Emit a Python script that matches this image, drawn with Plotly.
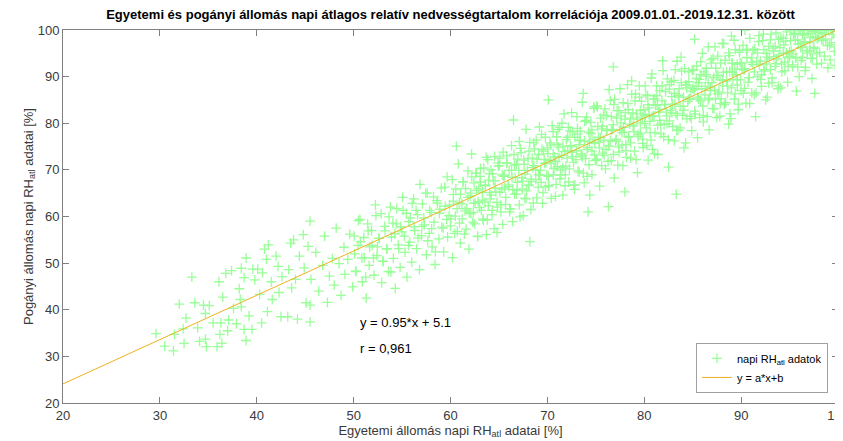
import plotly.graph_objects as go

# Egyetemi (x) vs Pogányi (y) daily mean RH [%]
egyetemi_rh_a = [
    29.6, 30.5, 31.4, 31.5, 32.0, 32.5, 32.7, 32.4, 33.3, 33.6, 34.1, 33.9, 34.5, 34.7, 34.8, 34.7,
    35.1, 35.5, 35.9, 36.2, 36.1, 36.3, 36.4, 36.5, 36.8, 37.0, 37.1, 37.4, 37.6, 37.9, 38.2, 38.3,
    38.4, 38.4, 38.7, 38.7, 38.9, 38.9, 39.2, 39.5, 39.6, 39.8, 40.1, 40.3, 40.5, 40.6, 40.8, 41.0,
    41.1, 41.2, 41.5, 41.6, 42.0, 42.2, 42.3, 42.5, 42.6, 43.2, 43.3, 43.5, 43.6, 43.8, 44.0, 44.2,
    44.4, 44.8, 44.9, 45.1, 45.3, 45.5, 45.5, 45.6, 45.5,
    46.1, 46.4, 46.8, 47.0, 47.3, 47.5, 47.8, 48.0, 48.2, 48.5, 48.7, 49.0, 49.1, 49.4, 49.6, 49.9,
    50.1, 50.2, 50.5, 50.7, 50.9, 51.1, 51.3, 51.5, 51.6, 51.9, 52.1, 52.3, 52.4, 52.6, 52.9, 53.0,
    53.2, 53.4, 53.6, 53.8, 53.9, 54.1, 54.3, 54.4, 54.6, 54.8, 55.0, 55.1, 55.3, 55.5, 55.7, 55.8,
    56.0, 56.2,
    56.3, 56.5, 56.6, 56.8, 57.0, 57.1, 57.3, 57.5, 57.6, 57.8, 58.0, 58.1, 58.3, 58.4, 58.6, 58.8,
    58.9, 59.1, 59.3, 59.4, 59.6, 59.7, 59.9, 60.0, 60.2, 60.3, 60.5, 60.6, 60.7, 60.9, 61.0, 61.2,
    61.3, 61.5, 61.6, 61.8, 61.9, 62.1, 62.2, 62.4, 62.5, 62.7, 62.8, 63.0, 63.1, 63.3, 63.4, 63.6,
    63.7, 63.9, 64.0, 64.2, 64.3, 64.5, 64.6, 64.8, 64.9, 65.1, 65.2, 65.4, 65.5, 65.7, 65.8, 66.0,
    66.1, 66.3, 66.4, 66.5, 66.6, 66.8, 66.9, 67.1, 67.2, 67.4, 67.5, 67.7, 67.8, 68.0, 68.1, 68.2,
    68.3, 68.5, 68.6, 68.8, 68.9, 69.1, 69.2, 69.4, 69.5, 69.7, 69.8, 70.0, 70.1, 70.1, 70.3, 70.4,
    70.6, 70.7, 70.9, 71.0, 71.2, 71.3, 71.5, 71.6, 71.8, 71.9, 72.1, 72.2, 72.4, 72.5, 72.7, 72.8,
    73.0, 73.1, 73.3, 73.4, 73.6, 73.7, 73.8, 74.0, 74.1, 74.2, 74.3, 74.5, 74.6, 74.8, 74.9, 75.1,
    75.2, 75.4, 75.5, 75.7, 75.8, 76.0, 76.1, 76.3, 76.3, 76.5, 76.6, 76.8, 76.8, 76.9, 77.1, 77.2,
    77.4, 77.5, 77.7, 77.8, 78.0, 78.0, 78.1, 78.3, 78.4, 78.6, 78.7, 78.9, 79.0, 79.2, 79.3, 79.5,
    79.6, 79.8, 79.9, 80.1, 80.2, 80.4, 80.5, 80.7, 80.8, 81.0, 81.1, 81.3, 81.4, 81.6, 81.7, 81.9,
    82.0, 82.2, 82.3, 82.5, 82.6, 82.8, 82.9, 83.1, 83.3, 83.2, 83.4, 83.5, 83.7, 83.8, 84.0, 84.1,
    84.3, 84.4, 84.6, 84.7, 84.9,
    85.0, 85.2, 85.2, 85.4, 85.5, 85.7, 85.8, 86.0, 86.1, 86.3, 86.4, 86.6, 86.7, 86.9, 87.0, 87.2,
    87.3, 87.5, 87.6, 87.8, 87.9, 88.1, 88.2, 88.4, 88.5, 88.7, 88.8, 89.0, 89.0, 89.1, 89.3, 89.4,
    89.6, 89.7, 89.9, 90.0, 90.2, 90.4, 90.3, 90.5, 90.6, 90.8, 90.9, 91.1, 91.2, 91.4, 91.5, 91.7,
    91.8, 92.0, 92.1, 92.3, 92.4, 92.6, 92.7, 92.9, 93.0, 93.2, 93.3, 93.5, 93.6, 93.8, 93.9, 94.1,
    94.2, 94.4, 94.5, 94.7, 94.8, 95.0, 95.1, 95.3, 95.4, 95.6, 95.7, 95.9, 96.0, 96.2, 96.3, 96.5,
    96.6, 96.8, 96.9, 97.1, 97.2, 97.4, 97.6, 97.5, 97.7, 97.8, 98.0, 98.1, 98.3, 98.4, 98.6, 98.7,
    98.9, 99.0, 99.2, 99.3, 99.5, 99.7, 99.7, 99.8,
]
pogany_rh_a = [
    34.9, 32.2, 31.2, 34.7, 41.2, 32.8, 38.2, 35.9, 47.0, 41.5, 33.2, 36.1, 41.0, 39.2, 32.1, 33.7,
    40.9, 37.2, 32.1, 34.7, 46.0, 37.2, 32.8, 42.7, 47.8, 35.5, 37.8, 48.4, 40.3, 37.0, 44.5, 42.2,
    48.9, 40.6, 46.9, 35.8, 33.4, 51.1, 38.7, 35.8, 48.7, 46.4, 48.7, 43.3, 37.2, 47.9, 53.0, 50.8,
    39.6, 53.9, 46.0, 42.2, 51.5, 49.3, 43.7, 38.5, 47.1, 38.5, 48.6, 54.3, 44.7, 55.0, 46.5, 38.0,
    51.5, 56.1, 49.0, 41.5, 53.6, 59.0, 37.4, 46.5, 41.0,
    52.3, 44.0, 49.5, 55.8, 41.6, 47.2, 51.0, 45.3, 57.5, 49.9, 43.1, 53.4, 47.6, 50.8, 56.2, 44.9,
    52.0, 48.3, 59.1, 54.6, 46.0, 51.2, 42.5, 56.9, 49.5, 53.8, 47.4, 60.2, 51.6, 55.3, 45.8, 50.4,
    57.9, 53.1, 48.2, 62.0, 55.6, 51.0, 44.6, 58.4, 53.9, 49.1, 56.7, 61.3, 52.3, 47.0, 58.9, 54.5,
    50.2, 63.8,
    57.0, 53.1, 60.4, 48.6, 55.9, 62.7, 58.2, 51.8, 65.0, 56.4, 60.9, 53.5, 58.8, 49.7, 63.4, 55.2,
    61.6, 57.7, 52.4, 66.3, 59.4, 55.6, 62.5, 58.0, 51.2, 64.7, 60.1, 75.1, 56.8, 62.9, 54.3, 59.5,
    67.4, 61.2, 57.3, 64.1, 53.0, 60.6, 68.5, 62.8, 58.4, 65.6, 55.7, 61.9, 70.3, 63.5, 59.2, 66.8,
    56.1, 62.3, 69.2, 64.6, 60.4, 57.4, 67.7, 63.0, 71.5, 65.2, 61.0, 58.3, 68.6, 64.1, 73.0, 66.4,
    61.7, 69.9, 58.9, 80.7, 64.8, 71.2, 67.3, 62.5, 74.6, 65.9, 60.2, 69.1, 63.8, 72.4, 66.7, 54.6,
    61.5, 70.5, 75.8, 67.9, 64.0, 73.3, 69.0, 77.6, 62.8, 71.4, 66.3, 74.7, 85.0, 68.6, 72.0, 63.9,
    78.2, 70.3, 66.9, 75.5, 72.7, 68.1, 80.0, 64.6, 73.9, 70.8, 77.0, 67.4, 75.0, 82.3, 71.6, 65.8,
    74.1, 78.9, 69.5, 76.3, 72.8, 86.4, 67.2, 80.6, 74.4, 61.0, 71.1, 77.8, 69.0, 83.5, 75.7, 72.3,
    79.3, 66.5, 76.9, 73.6, 81.8, 70.2, 78.4, 62.1, 75.1, 84.9, 72.0, 92.1, 79.7, 68.3, 76.6, 82.7,
    73.8, 87.4, 78.0, 70.9, 65.3, 80.9, 75.4, 84.2, 77.2, 72.5, 89.1, 79.6, 74.0, 82.0, 69.4, 85.6,
    77.9, 81.3, 74.8, 88.0, 79.0, 72.1, 83.3, 76.4, 90.6, 81.5, 78.0, 85.9, 73.3, 83.0, 79.8, 93.4,
    77.1, 86.8, 82.4, 70.6, 80.5, 88.9, 84.1, 76.2, 64.8, 91.5, 81.7, 86.0, 79.0, 94.2, 83.6, 74.7,
    88.2, 81.0, 91.0, 85.3, 78.4,
    87.5, 98.0, 82.6, 92.3, 76.9, 89.4, 84.8, 95.0, 80.3, 87.9, 91.8, 85.0, 78.6, 93.6, 88.7, 83.1,
    96.4, 90.2, 86.3, 81.5, 92.9, 88.0, 97.1, 84.4, 91.0, 79.8, 94.5, 98.7, 87.6, 90.9, 85.2, 95.8,
    89.3, 82.9, 93.0, 87.0, 96.7, 100.0, 91.4, 84.3, 94.1, 89.8, 98.2, 86.5, 92.6, 95.9, 81.4, 90.0,
    97.5, 93.3, 87.9, 99.1, 91.2, 95.0, 85.6, 93.8, 97.9, 89.7, 96.1, 92.2, 99.4, 87.4, 94.6, 98.3,
    91.0, 96.8, 93.1, 99.6, 88.8, 95.4, 97.7, 92.5, 99.0, 94.0, 86.9, 97.0, 99.8, 93.5, 96.3, 98.9,
    91.3, 95.6, 99.3, 97.4, 93.9, 99.7, 86.4, 96.0, 98.6, 92.7, 99.5, 95.2, 97.9, 99.2, 94.4, 98.1,
    96.6, 99.9, 93.6, 97.3, 99.0, 96.4, 92.4, 98.5,
]

# further points filling the dense part of the cloud (x 50-100)
egyetemi_rh_b = [
    50.05, 50.25, 50.45, 50.65, 50.85, 51.05, 51.25, 51.45, 51.65, 51.85, 52.05, 52.25, 52.45, 52.65,
    52.85, 53.05, 53.25, 53.45, 53.65, 53.85, 54.05, 54.25, 54.45, 54.65, 54.85, 55.05, 55.25, 55.45,
    55.65, 55.85, 56.05, 56.25, 56.45, 56.65, 56.85, 57.05, 57.25, 57.45, 57.65, 57.85, 58.05, 58.25,
    58.45, 58.65, 58.85, 59.05, 59.25, 59.45, 59.65, 59.85,
    60.05, 60.18, 60.30, 60.43, 60.55, 60.68, 60.80, 60.93, 61.05, 61.18, 61.30, 61.43, 61.55, 61.68,
    61.80, 61.93, 62.05, 62.18, 62.30, 62.43, 62.55, 62.68, 62.80, 62.93, 63.05, 63.18, 63.30, 63.43,
    63.55, 63.68, 63.80, 63.93, 64.05, 64.18, 64.30, 64.43, 64.55, 64.68, 64.80, 64.93, 65.05, 65.18,
    65.30, 65.43, 65.55, 65.68, 65.80, 65.93, 66.05, 66.18, 66.30, 66.43, 66.55, 66.68, 66.80, 66.93,
    67.05, 67.18, 67.30, 67.43, 67.55, 67.68, 67.80, 67.93, 68.05, 68.18, 68.30, 68.43, 68.55, 68.68,
    68.80, 68.93, 69.05, 69.18, 69.30, 69.43, 69.55, 69.68, 69.80, 69.93,
    70.05, 70.16, 70.27, 70.38, 70.49, 70.61, 70.72, 70.83, 70.94, 71.05, 71.16, 71.27, 71.38, 71.49,
    71.60, 71.72, 71.83, 71.94, 72.05, 72.16, 72.27, 72.38, 72.49, 72.60, 72.71, 72.83, 72.94, 73.05,
    73.16, 73.27, 73.38, 73.49, 73.60, 73.71, 73.82, 73.94, 74.05, 74.16, 74.27, 74.38, 74.49, 74.60,
    74.71, 74.82, 74.94, 75.05, 75.16, 75.27, 75.38, 75.49, 75.60, 75.71, 75.82, 75.94, 76.05, 76.16,
    76.27, 76.38, 76.49, 76.60, 76.71, 76.82, 76.94, 77.05, 77.16, 77.27, 77.38, 77.49, 77.60, 77.71,
    77.82, 77.94, 78.05, 78.16, 78.27, 78.38, 78.49, 78.60, 78.71, 78.82, 78.94, 79.05, 79.16, 79.27,
    79.38, 79.49, 79.60, 79.71, 79.82, 79.94,
    80.05, 80.16, 80.27, 80.38, 80.49, 80.61, 80.72, 80.83, 80.94, 81.05, 81.16, 81.27, 81.38, 81.49,
    81.60, 81.72, 81.83, 81.94, 82.05, 82.16, 82.27, 82.38, 82.49, 82.60, 82.71, 82.83, 82.94, 83.05,
    83.16, 83.27, 83.38, 83.49, 83.60, 83.71, 83.82, 83.94, 84.05, 84.16, 84.27, 84.38, 84.49, 84.60,
    84.71, 84.82, 84.94, 85.05, 85.16, 85.27, 85.38, 85.49, 85.60, 85.71, 85.82, 85.94, 86.05, 86.16,
    86.27, 86.38, 86.49, 86.60, 86.71, 86.82, 86.94, 87.05, 87.16, 87.27, 87.38, 87.49, 87.60, 87.71,
    87.82, 87.94, 88.05, 88.16, 88.27, 88.38, 88.49, 88.60, 88.71, 88.82, 88.94, 89.05, 89.16, 89.27,
    89.38, 89.49, 89.60, 89.71, 89.82, 89.94,
    90.05, 90.22, 90.38, 90.55, 90.71, 90.88, 91.04, 91.21, 91.37, 91.54, 91.70, 91.87, 92.03, 92.20,
    92.36, 92.53, 92.69, 92.86, 93.02, 93.19, 93.35, 93.52, 93.68, 93.85, 94.01, 94.18, 94.34, 94.51,
    94.67, 94.84, 95.00, 95.17, 95.33, 95.50, 95.66, 95.83, 95.99, 96.16, 96.32, 96.49, 96.65, 96.82,
    96.98, 97.15, 97.31, 97.48, 97.64, 97.81, 97.97, 98.14, 98.30, 98.47, 98.63, 98.80, 98.96, 99.13,
    99.29, 99.46, 99.62, 99.79,
]
pogany_rh_b = [
    55.8, 48.2, 53.8, 59.4, 51.1, 55.5, 47.0, 58.4, 53.5, 57.0, 51.1, 62.5, 53.5, 55.3,
    60.6, 50.4, 56.9, 53.0, 59.9, 48.1, 58.6, 56.3, 61.7, 53.1, 57.8, 64.1, 55.8, 60.7,
    53.8, 59.7, 62.8, 57.8, 61.3, 55.4, 66.9, 57.9, 59.7, 65.0, 54.8, 61.3, 57.4, 64.2,
    52.4, 62.9, 60.7, 66.1, 57.5, 62.2, 68.5, 60.2,
    59.5, 67.9, 63.3, 56.4, 65.9, 61.7, 71.3, 58.6, 64.8, 62.7, 67.5, 56.2, 66.0, 61.7,
    69.8, 60.8, 64.4, 73.4, 58.8, 67.2, 62.9, 69.3, 55.8, 66.0, 68.6, 61.3, 65.2, 70.4,
    63.1, 72.7, 59.3, 67.8, 65.1, 70.0, 61.3, 67.7, 72.9, 65.3, 56.6, 70.8, 70.9, 62.5,
    65.9, 73.8, 68.8, 62.6, 71.5, 66.8, 69.9, 61.6, 75.2, 65.8, 73.3, 68.4, 64.8, 72.3,
    69.9, 59.9, 73.7, 67.6, 72.1, 63.9, 78.7, 69.9, 66.7, 75.9, 68.0, 72.5, 62.9, 74.5,
    70.0, 72.3, 66.3, 79.2, 69.9, 74.4, 65.1, 72.2, 77.0, 68.8,
    73.5, 66.6, 75.8, 71.4, 79.5, 68.9, 72.8, 64.3, 77.1, 70.7, 74.9, 79.1, 68.9, 73.1,
    70.5, 82.0, 66.6, 76.5, 72.5, 79.1, 70.2, 75.2, 73.8, 78.2, 66.7, 77.0, 72.2, 81.4,
    69.8, 75.4, 78.3, 73.4, 84.5, 69.3, 76.2, 72.4, 81.3, 74.8, 78.1, 64.6, 80.2, 74.0,
    76.5, 83.2, 72.0, 72.1, 83.5, 77.0, 74.7, 81.1, 70.9, 79.4, 76.3, 83.1, 74.4, 78.5,
    71.8, 87.2, 76.3, 81.4, 78.7, 73.3, 85.1, 76.1, 81.1, 71.0, 82.7, 78.5, 80.1, 75.3,
    84.4, 78.1, 82.3, 72.7, 88.3, 77.0, 79.8, 75.8, 86.2, 82.2, 78.2, 84.8, 72.2, 80.9,
    77.2, 88.0, 80.1, 84.7, 75.7, 82.9,
    79.9, 86.1, 75.2, 84.0, 81.9, 78.0, 89.7, 81.5, 85.2, 73.5, 83.8, 88.0, 79.6, 82.4,
    87.0, 77.7, 84.8, 91.3, 79.7, 84.0, 81.6, 89.5, 76.5, 87.3, 82.8, 85.7, 79.3, 89.2,
    84.1, 82.1, 93.3, 78.5, 87.4, 83.6, 88.7, 81.7, 85.6, 91.7, 75.8, 87.6, 84.7, 88.9,
    81.5, 86.9, 91.3, 91.4, 87.2, 82.0, 89.6, 85.6, 88.7, 81.2, 93.2, 87.4, 83.7, 91.0,
    86.1, 90.1, 81.4, 96.4, 85.4, 87.6, 92.9, 83.2, 89.8, 87.1, 91.8, 81.2, 94.4, 86.7,
    89.3, 85.3, 97.1, 90.9, 84.0, 93.5, 89.1, 86.5, 95.1, 91.1, 81.0, 92.9, 89.4, 97.8,
    86.3, 90.4, 92.7, 84.1, 95.2, 89.3,
    92.8, 86.4, 91.7, 95.7, 88.8, 84.2, 93.1, 95.6, 91.0, 86.5, 95.1, 92.6, 89.4, 97.7,
    91.5, 85.0, 94.2, 96.5, 91.5, 88.7, 94.3, 96.5, 93.8, 88.0, 96.2, 92.7, 98.2, 91.3,
    95.1, 94.1, 94.3, 95.5, 92.1, 99.3, 94.1, 97.9, 90.0, 96.2, 99.1, 97.3, 92.0, 95.1,
    100.0, 98.4, 89.6, 96.3, 100.0, 94.9, 98.4, 100.0, 92.9, 97.8, 100.0, 100.0, 91.9, 96.8,
    100.0, 100.0, 95.4, 100.0,
]

# more points in the densest part of the band (x 62-98)
egyetemi_rh_c = [
    62.10, 62.35, 62.60, 62.85, 63.10, 63.35, 63.60, 63.85, 64.10, 64.35, 64.60, 64.85, 65.10, 65.35,
    65.60, 65.85, 66.10, 66.35, 66.60, 66.85, 67.10, 67.35, 67.60, 67.85, 68.10, 68.35, 68.60, 68.85,
    69.10, 69.35, 69.60, 69.85, 70.10, 70.35, 70.60, 70.85, 71.10, 71.35, 71.60, 71.85, 72.10, 72.35,
    72.60, 72.85, 73.10, 73.35, 73.60, 73.85, 74.10, 74.35, 74.60, 74.85, 75.10, 75.35, 75.60, 75.85,
    76.10, 76.35, 76.60, 76.85, 77.10, 77.35, 77.60, 77.85, 78.10, 78.35, 78.60, 78.85, 79.10, 79.35,
    79.60, 79.85, 80.10, 80.35, 80.60, 80.85, 81.10, 81.35, 81.60, 81.85, 82.10, 82.35, 82.60, 82.85,
    83.10, 83.35, 83.60, 83.85, 84.10, 84.35, 84.60, 84.85, 85.10, 85.35, 85.60, 85.85, 86.10, 86.35,
    86.60, 86.85, 87.10, 87.35, 87.60, 87.85, 88.10, 88.35, 88.60, 88.85, 89.10, 89.35, 89.60, 89.85,
    90.10, 90.35, 90.60, 90.85, 91.10, 91.35, 91.60, 91.85, 92.10, 92.35, 92.60, 92.85, 93.10, 93.35,
    93.60, 93.85, 94.10, 94.35, 94.60, 94.85, 95.10, 95.35, 95.60, 95.85, 96.10, 96.35, 96.60, 96.85,
    97.10, 97.35, 97.60, 97.85,
]
pogany_rh_c = [
    65.0, 60.9, 69.3, 63.2, 67.4, 59.5, 66.6, 72.2, 63.8, 69.2, 66.1, 62.0, 72.5, 68.9,
    66.2, 71.4, 61.0, 68.4, 71.0, 65.6, 76.1, 68.3, 71.2, 65.5, 74.0, 67.5, 70.9, 76.4,
    68.9, 67.3, 74.0, 71.5, 66.5, 75.3, 73.5, 71.8, 78.7, 70.0, 75.1, 69.0, 74.1, 78.3,
    72.8, 66.8, 77.7, 76.4, 73.0, 80.4, 68.6, 76.0, 78.6, 73.2, 83.7, 75.9, 78.8, 73.1,
    81.6, 75.1, 78.5, 84.0, 76.5, 74.9, 81.6, 79.1, 74.1, 82.9, 81.1, 79.4, 86.3, 77.6,
    82.7, 76.6, 81.7, 85.9, 80.4, 74.4, 85.3, 84.0, 80.6, 88.0, 84.0, 79.9, 88.3, 82.2,
    86.4, 78.5, 85.6, 91.2, 82.8, 88.2, 85.1, 81.0, 91.5, 87.9, 85.2, 90.4, 81.7, 90.5,
    88.7, 87.0, 93.9, 85.2, 90.3, 84.2, 89.3, 93.5, 88.0, 82.0, 92.9, 91.6, 88.2, 95.6,
    91.6, 87.5, 95.9, 89.8, 94.0, 86.1, 93.2, 98.8, 90.4, 95.8, 92.7, 88.6, 99.1, 95.5,
    92.8, 98.0, 87.6, 95.0, 97.6, 92.2, 100.0, 94.9, 97.8, 92.1, 100.0, 94.1, 97.5, 100.0,
    95.5, 93.9, 100.0, 98.1,
]

egyetemi_rh = egyetemi_rh_a + egyetemi_rh_b + egyetemi_rh_c
pogany_rh = pogany_rh_a + pogany_rh_b + pogany_rh_c

# linear fit y = a*x + b
fit_a = 0.95
fit_b = 5.1
fit_x = [20, 100]
fit_y = [fit_a * v + fit_b for v in fit_x]

tick_vals = [20, 30, 40, 50, 60, 70, 80, 90, 100]

FONT = "Liberation Sans, Arial, sans-serif"
AXIS_COLOR = "#808080"
TEXT_COLOR = "#3a3a3a"

fig = go.Figure()
fig.add_trace(go.Scatter(
    x=egyetemi_rh, y=pogany_rh, mode="markers",
    name="napi RH<sub>atl</sub> adatok",
    marker=dict(symbol="cross-thin", size=7, color="#99FF99",
                line=dict(color="#99FF99", width=1.3)),
))
fig.add_trace(go.Scatter(
    x=fit_x, y=fit_y, mode="lines", name="y = a*x+b",
    line=dict(color="#EDB120", width=1),
))

fig.add_annotation(x=50.4, y=37.2, xref="x", yref="y", text="y = 0.95*x + 5.1",
                   showarrow=False, xanchor="left", yanchor="middle",
                   font=dict(family=FONT, size=13, color="#000000"))
fig.add_annotation(x=50.4, y=31.6, xref="x", yref="y", text="r = 0,961",
                   showarrow=False, xanchor="left", yanchor="middle",
                   font=dict(family=FONT, size=13, color="#000000"))

axis_common = dict(
    range=[20, 100], tickmode="array", tickvals=tick_vals, automargin=False,
    showgrid=False, zeroline=False, showline=True, linecolor=AXIS_COLOR, linewidth=1,
    mirror="allticks", ticks="inside", ticklen=6, tickcolor=AXIS_COLOR, tickwidth=1,
    tickfont=dict(family=FONT, size=13, color=TEXT_COLOR),
    ticklabeloverflow="allow",
)

# page body has an 8px margin, so the figure is offset to land the axes
# where the reference has them in the 843x441 window
fig.update_layout(
    width=843, height=433,
    margin=dict(l=55, r=13, t=22, b=38),
    paper_bgcolor="white", plot_bgcolor="white",
    title=dict(text="<b>Egyetemi és pogányi állomás napi átlagos relatív nedvességtartalom korrelációja 2009.01.01.-2019.12.31. között</b>",
               x=0.5, xref="paper", xanchor="center", y=0.985, yanchor="middle",
               font=dict(family=FONT, size=13, color="#000000")),
    xaxis=dict(axis_common,
               title=dict(text="Egyetemi állomás napi RH<sub>atl</sub> adatai [%]", standoff=2,
                          font=dict(family=FONT, size=13, color=TEXT_COLOR))),
    yaxis=dict(axis_common,
               title=dict(text="Pogányi állomás napi RH<sub>atl</sub> adatai [%]", standoff=1,
                          font=dict(family=FONT, size=13, color=TEXT_COLOR))),
    legend=dict(x=0.987, y=0.027, xanchor="right", yanchor="bottom",
                bgcolor="white", bordercolor="#a0a0a0", borderwidth=1,
                font=dict(family=FONT, size=11, color="#000000"),
                tracegroupgap=0),
    showlegend=True,
)

fig.write_html("out.html")
